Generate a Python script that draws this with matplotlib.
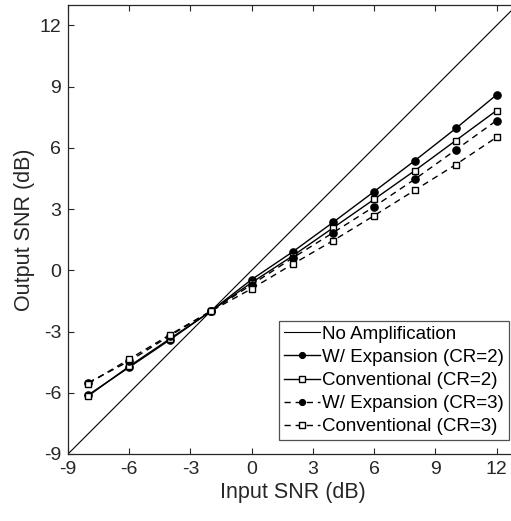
import matplotlib
matplotlib.use("Agg")
import matplotlib.pyplot as plt

plt.rcParams['font.family'] = ['Liberation Sans', 'DejaVu Sans']
plt.rcParams['axes.unicode_minus'] = False

# input SNR levels (dB)
snr_in = [-8, -6, -4, -2, 0, 2, 4, 6, 8, 10, 12]

# output SNR (dB)
exp_cr2 = [-6.1, -4.75, -3.4, -2.0, -0.45, 0.9, 2.36, 3.86, 5.38, 6.95, 8.6]
conv_cr2 = [-6.15, -4.7, -3.35, -2.0, -0.6, 0.7, 2.09, 3.48, 4.89, 6.36, 7.83]
exp_cr3 = [-5.5, -4.45, -3.2, -2.0, -0.7, 0.6, 1.85, 3.12, 4.47, 5.9, 7.34]
conv_cr3 = [-5.55, -4.35, -3.15, -2.0, -0.9, 0.3, 1.46, 2.68, 3.93, 5.18, 6.52]

ref_line = [-9, 13]
ticks = [-9, -6, -3, 0, 3, 6, 9, 12]

W, H = 511, 521
fig = plt.figure(figsize=(W / 100, H / 100), dpi=100)
# axes run a bit past the right edge of the image, as in the original
ax = fig.add_axes([68 / W, 1 - 454 / H, 449 / W, 449 / H])

dash = (4.5, 3.5)
ax.plot(ref_line, ref_line, 'k-', lw=0.8, label='No Amplification')
ax.plot(snr_in, exp_cr2, 'k-', marker='o', ms=5.2, mfc='k', lw=1.0,
        label='W/ Expansion (CR=2)')
ax.plot(snr_in, conv_cr2, 'k-', marker='s', ms=4.8, mfc='w', mew=1.0, lw=1.0,
        label='Conventional (CR=2)')
ax.plot(snr_in, exp_cr3, 'k--', dashes=dash, marker='o', ms=5.2, mfc='k', lw=1.0,
        label='W/ Expansion (CR=3)')
ax.plot(snr_in, conv_cr3, 'k--', dashes=dash, marker='s', ms=4.8, mfc='w',
        mew=1.0, lw=1.0, label='Conventional (CR=3)')

ax.set_xlim(-9, 13)
ax.set_ylim(-9, 13)
ax.set_xticks(ticks)
ax.set_yticks(ticks)
ax.tick_params(direction='in', length=4, labelsize=14, colors='#262626',
               top=True, right=True, pad=5)
for s in ax.spines.values():
    s.set_color('#262626')
    s.set_linewidth(0.9)
ax.set_xlabel('Input SNR (dB)', fontsize=15.5, color='#262626', labelpad=3)
ax.set_ylabel('Output SNR (dB)', fontsize=15.5, color='#262626', labelpad=3)

leg = ax.legend(loc='lower right', bbox_to_anchor=(509 / W, 1 - 440 / H),
                bbox_transform=fig.transFigure, fontsize=13.5, frameon=True,
                fancybox=False, handlelength=1.9, handletextpad=0.15,
                borderpad=0.25, labelspacing=0.32, borderaxespad=0,
                markerscale=0.8)
leg.get_frame().set_edgecolor('#262626')
leg.get_frame().set_linewidth(0.9)

fig.savefig('out.png', dpi=100)
